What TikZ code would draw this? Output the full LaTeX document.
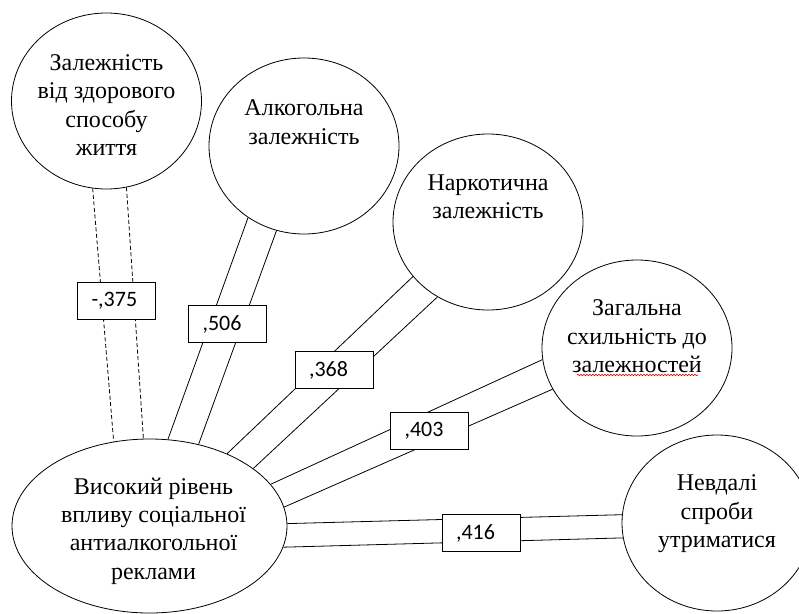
\documentclass[tikz,border=0pt]{standalone}
\usepackage{fontspec}
\setmainfont{Liberation Serif}
\newfontfamily\wtfont{Carlito}
\usetikzlibrary{shapes.geometric,positioning,calc,decorations.pathmorphing}
\tikzset{
  loc/.style    = { draw, ellipse, line width=0.8pt, inner sep=0pt,
    minimum width=190pt, minimum height=176pt },
  srcloc/.style = { loc, minimum width=275pt, minimum height=174pt },
  txt/.style    = { align=center, inner sep=0pt,
    font=\fontsize{24}{28.4}\selectfont },
  wt/.style     = { draw, line width=0.8pt, fill=white, align=left,
    text width=50pt, inner xsep=14pt, minimum height=37pt,
    font=\wtfont\fontsize{22}{26}\selectfont },
  ln/.style     = { line width=0.8pt },
  dln/.style    = { ln, dash pattern=on 4pt off 2.5pt },
  spell/.style  = { red!85!black, line width=0.6pt, decorate,
    decoration={snake, amplitude=0.8pt, segment length=3pt} }
}

\begin{document}
\begin{tikzpicture}[x=1pt,y=-1pt]
    \useasboundingbox (0,0) rectangle (799,613);
    % source
    \node[srcloc, label={[txt, xshift=4pt, yshift=-5pt]center:Високий рівень\\впливу соціальної\\антиалкогольної\\реклами}] (ad) at (149.5,526) {};
    % targets
    \node[loc, label={[txt, yshift=-4pt]center:Залежність\\від здорового\\способу\\життя}] (hl) at (106.5,101) {};
    \node[loc, label={[txt, yshift=24pt]center:Алкогольна\\залежність}] (alc) at (304,146) {};
    \node[loc, label={[txt, yshift=25.5pt]center:Наркотична\\залежність}] (drug) at (488,222) {};
    \node[loc, label={[txt, yshift=11.5pt]center:Загальна\\схильність до\\залежностей}] (gen) at (637,348) {};
    \node[loc, label={[txt, yshift=9pt]center:Невдалі\\спроби\\утриматися}] (fail) at (717,523) {};
    \draw[spell] ($(gen)+(-60,27)$) -- ($(gen)+(61,27)$);
    % links
    \path[dln] (hl.261.8) edge (ad.113.8)
               (hl.283.3) edge (ad.94.9);
    \path[ln] (alc.232.5) edge (ad.78)
              (alc.252.6) edge (ad.59.4);
    \path[ln] (drug.216.3) edge (ad.43.3)
              (drug.236.1) edge (ad.29.3);
    \path[ln] (gen.187.9) edge (ad.19.6)
              (gen.206) edge (ad.8.9);
    \path[ln] (fail.175.8) edge (ad.1.7)
              (fail.189) edge (ad.351.2);
    % weights
    \node[wt] (w1) at (116.5,301) {-,375};
    \node[wt] (w2) at (227.5,324) {,506};
    \node[wt] (w3) at (334,370) {,368};
    \node[wt] (w4) at (429.5,430.5) {,403};
    \node[wt] (w5) at (481,533) {,416};
\end{tikzpicture}
\end{document}
